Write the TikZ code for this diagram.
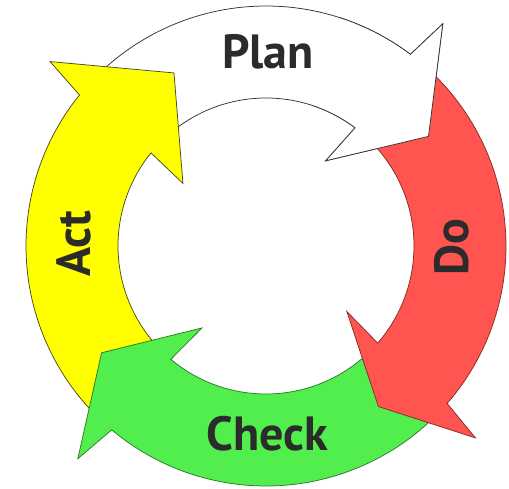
\documentclass[tikz,border=0pt]{standalone}
\usepackage{fontspec}
\setmainfont{PT Sans}
\definecolor{planfill}{HTML}{FFFFFF}
\definecolor{planline}{HTML}{333333}
\definecolor{dofill}{HTML}{FF5450}
\definecolor{doline}{HTML}{8A2A25}
\definecolor{checkfill}{HTML}{52EE4E}
\definecolor{checkline}{HTML}{2E7A2A}
\definecolor{actfill}{HTML}{FFFF00}
\definecolor{actline}{HTML}{4A4A20}
\definecolor{textgray}{HTML}{2B2B2B}
\newcommand\pdcaarrow[4]{%
  \path[#4] plot[domain=#1:#2,samples=60] (\x:240) -- ({#2+1.5}:284) -- (#3:196)
    -- ({#2-2}:104) -- (#2:148) -- plot[domain=#2:#1,samples=60] (\x:148) -- cycle;}
\begin{document}
\begin{tikzpicture}[x=1pt,y=-1pt,
  arrowshape/.style={line width=0.75pt,line join=miter},
  lbl/.style={font=\bfseries\fontsize{48}{52}\selectfont,text=textgray,inner sep=0pt}]
\useasboundingbox (0,0) rectangle (509,488);
\begin{scope}[shift={(266,246)}]
  % Plan (white)
  \pdcaarrow{223}{307}{326}{arrowshape,fill=planfill,draw=planline}
  % Act (yellow)
  \pdcaarrow{134}{219}{242}{arrowshape,fill=actfill,draw=actline}
  % Check (green)
  \pdcaarrow{45}{130}{147}{arrowshape,fill=checkfill,draw=checkline}
  % Do (red)
  \pdcaarrow{311}{401}{415}{arrowshape,fill=dofill,draw=doline}
  % Plan head again, over the tail of Do
  \begin{scope}
    \clip (0,0) -- (288:340) -- (315:340) -- (345:340) -- cycle;
    \pdcaarrow{223}{307}{326}{arrowshape,fill=planfill,draw=planline}
  \end{scope}
\end{scope}
\node[lbl,anchor=base] (plan) at (268,68) {Plan};
\node[lbl,anchor=base,rotate=90] (act) at (90,244) {Act};
\node[lbl,anchor=base,rotate=90] (do) at (468,247) {Do};
\node[lbl,anchor=base] (check) at (267,450) {Check};
\end{tikzpicture}
\end{document}
